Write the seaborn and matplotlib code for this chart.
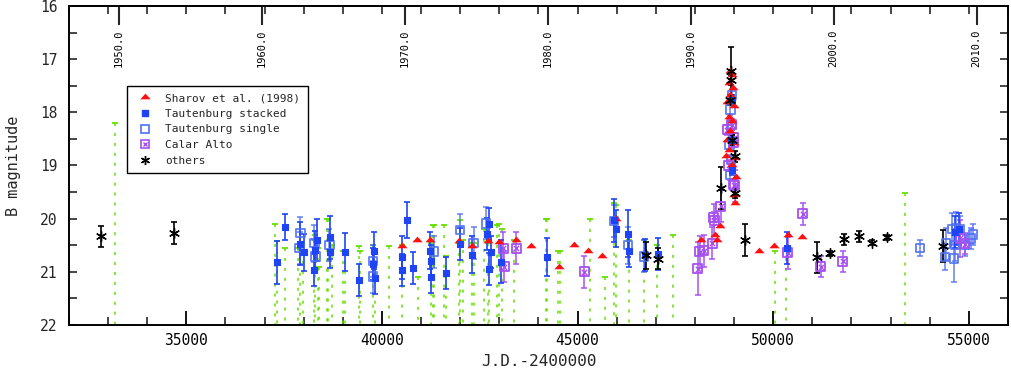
import numpy as np
import pandas as pd
import matplotlib
matplotlib.use("Agg")
import matplotlib.pyplot as plt
import matplotlib.transforms as mtransforms
from matplotlib.ticker import MultipleLocator
from matplotlib.lines import Line2D
from matplotlib.path import Path
import seaborn as sns

# ---------------- data (J.D. - 2400000, B magnitude) ----------------
sharov_jd = [40512, 40885, 41235, 41957, 42314, 42707, 42995, 43436, 43811, 44525,
             44900, 45273, 45630, 45980, 48148, 48523, 48570, 48650, 49015, 49627,
             50010, 50375, 50732,
             48905, 48946, 48880, 48964, 48905, 48819, 48990, 48862, 48946, 48905,
             48819, 48990, 48862, 48793, 49033, 48946, 49048, 49000]
sharov_mag = [20.51, 20.41, 20.41, 20.42, 20.52, 20.42, 20.43, 20.41, 20.51, 20.90,
              20.50, 20.61, 20.71, 20.00, 20.41, 20.31, 20.40, 20.13, 19.71, 20.61,
              20.51, 20.31, 20.35,
              17.23, 17.30, 17.45, 17.55, 17.67, 17.80, 17.89, 18.08, 18.17, 18.36,
              18.52, 18.58, 18.71, 18.83, 18.86, 18.99, 19.21, 19.55]

stacked_jd = [37306, 37528, 37918, 37995, 38293, 38275, 38344, 38676, 38684, 39048,
              39406, 39788, 39832, 39780, 40513, 40513, 40648, 40793, 41235, 41260,
              41252, 41643, 42000, 42298, 42681, 42740, 42783, 42740, 43038, 44212,
              45928, 45972, 46293, 46311, 46712, 47043, 48946, 48920, 48946, 50349,
              54645, 54747]
stacked_mag = [20.82, 20.16, 20.47, 20.63, 20.58, 20.97, 20.40, 20.35, 20.63, 20.63,
               21.15, 20.60, 21.12, 20.85, 20.73, 20.97, 20.03, 20.93, 20.60, 20.80,
               21.10, 21.02, 20.47, 20.68, 20.29, 20.10, 20.63, 20.95, 20.81, 20.72,
               20.03, 20.19, 20.28, 20.60, 20.69, 20.66, 17.77, 18.52, 19.08, 20.55,
               20.25, 20.19]
stacked_err = [0.40, 0.24, 0.40, 0.35, 0.35, 0.30, 0.40, 0.40, 0.30, 0.36,
               0.30, 0.35, 0.30, 0.30, 0.40, 0.30, 0.34, 0.30, 0.35, 0.30,
               0.30, 0.30, 0.30, 0.35, 0.30, 0.30, 0.30, 0.30, 0.40, 0.35,
               0.40, 0.35, 0.45, 0.30, 0.30, 0.30, 0.10, 0.10, 0.10, 0.30,
               0.30, 0.30]

single_jd = [37918, 37893, 38275, 38301, 38659, 39763, 39763, 41337, 42000, 42340,
             42657, 45928, 46293, 46694, 48946, 48905, 48946, 48880, 48920, 48905,
             53760, 54398, 54423, 54627, 54576, 54678, 54780, 54652, 54908, 55061,
             55112]
single_mag = [20.27, 20.55, 20.46, 20.71, 20.50, 21.09, 20.80, 20.62, 20.21, 20.46,
              20.09, 20.05, 20.50, 20.71, 17.67, 17.95, 18.24, 18.61, 18.90, 19.18,
              20.55, 20.72, 20.47, 20.75, 20.20, 20.18, 20.20, 20.50, 20.50, 20.37,
              20.30]
single_err = [0.30, 0.30, 0.35, 0.30, 0.30, 0.30, 0.30, 0.30, 0.30, 0.30,
              0.30, 0.30, 0.35, 0.30, 0.10, 0.10, 0.10, 0.10, 0.10, 0.10,
              0.15, 0.25, 0.30, 0.45, 0.30, 0.30, 0.25, 0.30, 0.20, 0.20,
              0.20]

calar_jd = [43105, 43122, 43428, 45176, 48071, 48122, 48224, 48436, 48492, 48658,
            48946, 48990, 49015, 48862, 48819, 48990, 48990, 48479, 50757, 50375,
            51209, 51778, 54900, 54780]
calar_mag = [20.56, 20.90, 20.56, 21.00, 20.94, 20.62, 20.60, 20.46, 20.03, 19.77,
             18.23, 18.56, 19.38, 19.00, 18.33, 18.48, 19.36, 19.97, 19.91, 20.64,
             20.90, 20.80, 20.47, 20.37]
calar_err = [0.30, 0.30, 0.30, 0.30, 0.50, 0.30, 0.30, 0.30, 0.30, 0.30,
             0.10, 0.10, 0.30, 0.10, 0.10, 0.10, 0.10, 0.10, 0.20, 0.30,
             0.20, 0.20, 0.20, 0.35]

others_jd = [32816, 34679, 46745, 47051, 48658, 48930, 48930, 48905, 48946, 49015,
             49033, 49270, 51107, 51464, 51821, 52204, 52536, 52918, 54347]
others_mag = [20.33, 20.27, 20.69, 20.75, 19.42, 17.23, 17.39, 17.77, 18.52, 18.83,
              19.52, 20.40, 20.73, 20.65, 20.39, 20.33, 20.45, 20.35, 20.52]
others_err = [0.20, 0.20, 0.25, 0.20, 0.40, 0.45, 0.10, 0.10, 0.10, 0.10,
              0.10, 0.30, 0.30, 0.05, 0.10, 0.10, 0.05, 0.05, 0.30]

limit_jd = [33173, 37255, 37306, 37528, 37860, 37918, 37987, 38258, 38301, 38360,
            38403, 38600, 38633, 38717, 39008, 39059, 39406, 39431, 39773, 39824,
            40189, 40512, 40929, 41252, 41293, 41337, 41592, 41635, 41957, 42000,
            42059, 42314, 42357, 42612, 42707, 42740, 42951, 42995, 43079, 43377,
            44186, 44227, 44507, 44551, 45316, 45699, 45928, 45972, 46311, 46694,
            47018, 47426, 50053, 50323, 53370]
limit_mag = [18.20, 20.10, 20.42, 20.55, 20.55, 20.45, 20.60, 20.40, 20.30, 20.55,
             20.90, 20.00, 20.00, 20.50, 20.60, 20.60, 20.51, 20.60, 20.50, 20.60,
             20.51, 20.50, 21.10, 20.45, 20.11, 20.11, 20.11, 20.70, 20.45, 20.02,
             20.40, 20.45, 20.45, 20.20, 20.45, 20.40, 20.11, 20.10, 20.20, 20.40,
             20.00, 20.00, 20.60, 20.60, 20.00, 21.10, 19.70, 19.75, 20.40, 20.40,
             20.50, 20.30, 20.60, 20.55, 19.51]

year_labels = ["1950.0", "1960.0", "1970.0", "1980.0", "1990.0", "2000.0", "2010.0"]
year_values = [1950.0, 1960.0, 1970.0, 1980.0, 1990.0, 2000.0, 2010.0]
legend_labels = ["Sharov et al. (1998)", "Tautenburg stacked", "Tautenburg single",
                 "Calar Alto", "others"]

# Julian epoch conversion for the upper axis
year_jd = [51544.5 + (y - 2000.0) * 365.25 for y in year_values]

# ---------------- style ----------------
RED = "#ff1010"
BLUE = "#1e44f5"
BLUE_OPEN = "#4f6ff2"
PURPLE = "#a650f0"
GREEN = "#66e000"
BLACK = "#000000"

sns.set_theme(style="white")
plt.rcParams['font.family'] = ['DejaVu Sans Mono', 'DejaVu Sans']

fig = plt.figure(figsize=(10.11, 3.74), dpi=100)
ax = fig.add_axes([0.0682, 0.131, 0.9288, 0.853])

tri_marker = Path([(-1, -0.35), (1, -0.35), (0, 0.75), (-1, -0.35)],
                  [Path.MOVETO, Path.LINETO, Path.LINETO, Path.CLOSEPOLY])
asterisk = (6, 2, 0)

YMAX = 22.0

# upper limits: dotted lines down to the bottom plus short dash at the limit
ax.vlines(limit_jd, limit_mag, YMAX, colors=GREEN, linestyles=(0, (2, 4.5)),
          linewidth=1.1, zorder=1)
ax.plot(limit_jd, limit_mag, ls="none", marker="_", ms=5, mew=1.3, color=GREEN, zorder=1)

# error bars
eb = dict(fmt="none", capsize=2.2, elinewidth=1.2, capthick=1.2)
ax.errorbar(single_jd, single_mag, yerr=single_err, ecolor=BLUE_OPEN, alpha=0.8, zorder=2, **eb)
ax.errorbar(calar_jd, calar_mag, yerr=calar_err, ecolor=PURPLE, alpha=0.9, zorder=2, **eb)
ax.errorbar(stacked_jd, stacked_mag, yerr=stacked_err, ecolor=BLUE, zorder=3, **eb)
ax.errorbar(others_jd, others_mag, yerr=others_err, ecolor=BLACK, zorder=3, **eb)

df_sh = pd.DataFrame({"jd": sharov_jd, "mag": sharov_mag})
df_st = pd.DataFrame({"jd": stacked_jd, "mag": stacked_mag})
df_si = pd.DataFrame({"jd": single_jd, "mag": single_mag})
df_ca = pd.DataFrame({"jd": calar_jd, "mag": calar_mag})
df_ot = pd.DataFrame({"jd": others_jd, "mag": others_mag})

sns.scatterplot(data=df_si, x="jd", y="mag", ax=ax, marker="s", s=36,
                facecolor="none", edgecolor=BLUE_OPEN, linewidth=1.3, alpha=0.9, zorder=4)
sns.scatterplot(data=df_ca, x="jd", y="mag", ax=ax, marker="s", s=42,
                facecolor="none", edgecolor=PURPLE, linewidth=1.3, zorder=4)
sns.scatterplot(data=df_ca, x="jd", y="mag", ax=ax, marker="x", s=14,
                color=PURPLE, linewidth=1.0, zorder=4)
sns.scatterplot(data=df_sh, x="jd", y="mag", ax=ax, marker=tri_marker, s=55,
                color=RED, edgecolor=RED, linewidth=0, zorder=5)
sns.scatterplot(data=df_st, x="jd", y="mag", ax=ax, marker="s", s=22,
                color=BLUE, edgecolor=BLUE, linewidth=0.8, zorder=5)
sns.scatterplot(data=df_ot, x="jd", y="mag", ax=ax, marker=asterisk, s=50,
                color=BLACK, linewidth=1.0, zorder=6)

# ---------------- axes ----------------
ax.set_xlim(32000, 56000)
ax.set_ylim(22, 16)
ax.xaxis.set_major_locator(MultipleLocator(5000))
ax.xaxis.set_minor_locator(MultipleLocator(1000))
ax.yaxis.set_major_locator(MultipleLocator(1))
ax.yaxis.set_minor_locator(MultipleLocator(0.5))
ax.tick_params(axis="x", which="major", direction="in", length=10, width=1.3,
               labelsize=10.5, pad=6, colors="black", bottom=True, top=False)
ax.tick_params(axis="x", which="minor", direction="in", length=6, width=1.2,
               bottom=True, top=False)
ax.tick_params(axis="y", which="both", direction="in", length=6, width=1.2,
               labelsize=10.5, pad=8, left=True, right=True)
for sp in ax.spines.values():
    sp.set_linewidth(1.4)
    sp.set_color("black")

secax = ax.secondary_xaxis("top")
secax.set_xticks(year_jd)
secax.xaxis.set_minor_locator(MultipleLocator(1000))
secax.tick_params(which="major", direction="in", length=14, width=1.5,
                  labeltop=False, labelbottom=False)
secax.tick_params(which="minor", direction="in", length=6, width=1.2)
secax.spines["top"].set_linewidth(1.4)

trans = mtransforms.blended_transform_factory(ax.transData, ax.transAxes)
for yj, lab in zip(year_jd, year_labels):
    ax.text(yj, 0.925, lab, transform=trans, rotation=90, ha="center", va="top",
            fontsize=7.5, color="black")

ax.set_xlabel("J.D.-2400000", fontsize=11.5, labelpad=4)
ax.set_ylabel("B magnitude", fontsize=11, labelpad=14)

# ---------------- legend ----------------
handles = [
    Line2D([], [], ls="none", marker=tri_marker, ms=7.5, color=RED, mew=0),
    Line2D([], [], ls="none", marker="s", ms=5, color=BLUE),
    Line2D([], [], ls="none", marker="s", ms=5.5, mfc="none", mec=BLUE_OPEN, mew=1.2),
    (Line2D([], [], ls="none", marker="s", ms=5.5, mfc="none", mec=PURPLE, mew=1.2),
     Line2D([], [], ls="none", marker="x", ms=3.5, color=PURPLE, mew=1.0)),
    Line2D([], [], ls="none", marker=asterisk, ms=6.5, color=BLACK, mew=1.0),
]
leg = ax.legend(handles, legend_labels, loc="upper left", bbox_to_anchor=(0.0618, 0.749),
                borderaxespad=0, frameon=True, fancybox=False, edgecolor="black",
                framealpha=1, fontsize=8, borderpad=0.65, labelspacing=0.5,
                handlelength=2.0, handletextpad=0.8)
leg.get_frame().set_linewidth(1.0)

fig.savefig("out.png", dpi=100)
